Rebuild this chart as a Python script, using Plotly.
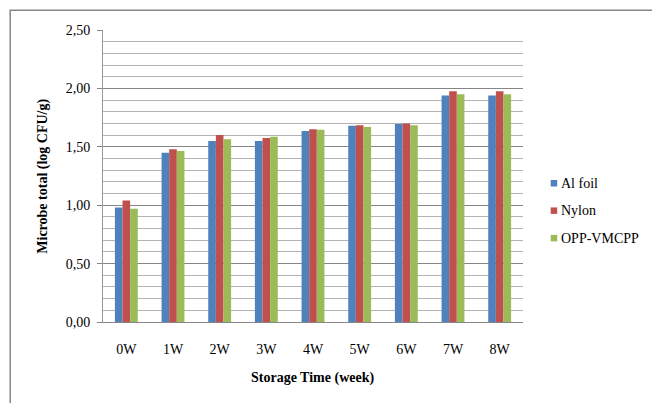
import plotly.graph_objects as go

# Storage weeks and total microbe counts (log CFU/g) per packaging type
weeks = ["0W", "1W", "2W", "3W", "4W", "5W", "6W", "7W", "8W"]
al_foil = [0.98, 1.45, 1.55, 1.55, 1.635, 1.68, 1.695, 1.94, 1.94]
nylon = [1.04, 1.48, 1.60, 1.575, 1.65, 1.685, 1.70, 1.975, 1.975]
opp_vmcpp = [0.97, 1.465, 1.565, 1.585, 1.645, 1.67, 1.685, 1.95, 1.95]

series_names = ["Al foil", "Nylon", "OPP-VMCPP"]
series_values = [al_foil, nylon, opp_vmcpp]
colors = ["#4F81BD", "#C0504D", "#9BBB59"]

y_ticks = [0, 0.5, 1.0, 1.5, 2.0, 2.5]
y_tick_text = ["0,00", "0,50", "1,00", "1,50", "2,00", "2,50"]

W, H = 652, 403
L, R, T, B = 103.3, 128.7, 29.7, 80.7
pw, ph = W - L - R, H - T - B

def px_x(x):
    return (x - L) / pw

def px_y(y):
    return (H - B - y) / ph

serif = "Liberation Serif"

fig = go.Figure()
for name, vals, col in zip(series_names, series_values, colors):
    fig.add_trace(go.Bar(
        x=weeks, y=vals, name=name, marker_color=col,
        marker_line_width=0, showlegend=False,
    ))

fig.update_layout(
    width=W, height=H,
    margin=dict(l=L, r=R, t=T, b=B),
    paper_bgcolor="white", plot_bgcolor="white",
    barmode="group", bargap=0.51, bargroupgap=0,
    font=dict(family=serif, size=13, color="#000000"),
)

fig.update_xaxes(
    showgrid=False, showline=True, linecolor="#868686", linewidth=1,
    ticks="", tickfont=dict(family=serif, size=14), ticklabelstandoff=14,
    zeroline=False,
)
fig.update_yaxes(
    range=[0, 2.5], tickvals=y_ticks, ticktext=y_tick_text,
    showgrid=True, gridcolor="#868686", gridwidth=1,
    minor=dict(dtick=0.1, showgrid=True, gridcolor="#B3B3B3", gridwidth=1, ticks=""),
    showline=True, linecolor="#9A9A9A", linewidth=1,
    ticks="outside", ticklen=5, tickcolor="#868686",
    tickfont=dict(family=serif, size=14), ticklabelstandoff=4, zeroline=False,
)

# Axis titles
fig.add_annotation(
    text="<b>Storage Time (week)</b>", xref="paper", yref="paper",
    x=px_x(313), y=px_y(378), showarrow=False,
    font=dict(family=serif, size=14), xanchor="center", yanchor="middle",
)
fig.add_annotation(
    text="<b>Microbe total (log CFU/g)</b>", xref="paper", yref="paper",
    x=px_x(43), y=px_y(176), showarrow=False, textangle=-90,
    font=dict(family=serif, size=14), xanchor="center", yanchor="middle",
)

# Legend: small colour squares with labels
legend_y = [183.5, 211, 238.5]
for name, col, ly in zip(series_names, colors, legend_y):
    fig.add_shape(
        type="rect", xref="paper", yref="paper",
        x0=px_x(551), x1=px_x(557.5), y0=px_y(ly + 3), y1=px_y(ly - 3.5),
        fillcolor=col, line_width=0,
    )
    fig.add_annotation(
        text=name, xref="paper", yref="paper",
        x=px_x(559), y=px_y(ly), showarrow=False,
        font=dict(family=serif, size=14), xanchor="left", yanchor="middle",
    )

# Outer chart frame
fig.add_shape(
    type="rect", xref="paper", yref="paper",
    x0=px_x(10.5), x1=px_x(W + 20), y0=px_y(H + 20), y1=px_y(10),
    line=dict(color="#868686", width=1.5), fillcolor="rgba(0,0,0,0)",
    layer="below",
)

fig.write_html("out.html")
